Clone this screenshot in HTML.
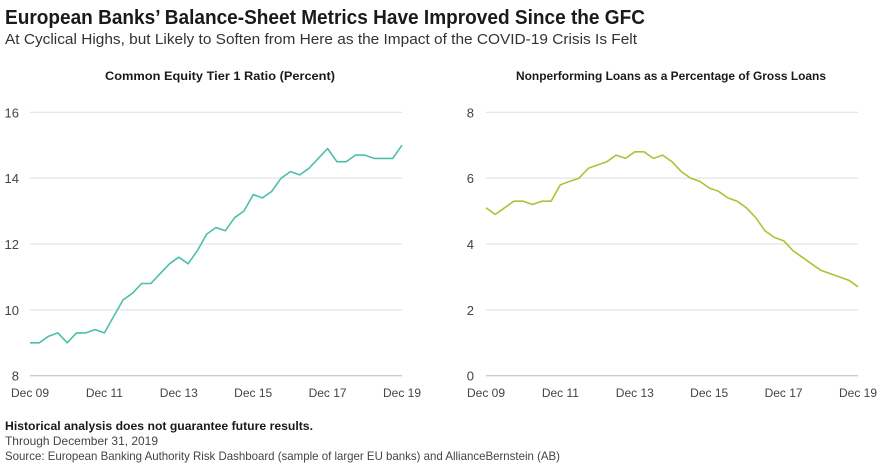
<!DOCTYPE html>
<html><head><meta charset="utf-8"><style>
html,body{margin:0;padding:0;background:#fff;}
svg{display:block;font-family:"Liberation Sans",sans-serif;}
</style></head><body>
<svg id="c" width="880" height="466" viewBox="0 0 880 466">
<text x="5" y="24" font-size="20" font-weight="bold" fill="#1a1a1a" textLength="640" lengthAdjust="spacingAndGlyphs">European Banks’ Balance-Sheet Metrics Have Improved Since the GFC</text>
<text x="5" y="44" font-size="15" fill="#333" textLength="632" lengthAdjust="spacingAndGlyphs">At Cyclical Highs, but Likely to Soften from Here as the Impact of the COVID-19 Crisis Is Felt</text>
<text x="220" y="80" font-size="12" font-weight="bold" fill="#1a1a1a" text-anchor="middle" textLength="230" lengthAdjust="spacingAndGlyphs">Common Equity Tier 1 Ratio (Percent)</text>
<text x="671" y="80" font-size="12" font-weight="bold" fill="#1a1a1a" text-anchor="middle" textLength="310" lengthAdjust="spacingAndGlyphs">Nonperforming Loans as a Percentage of Gross Loans</text>
<g id="left"></g>
<g id="right"></g>
<text x="5" y="430" font-size="12" font-weight="bold" fill="#1a1a1a" textLength="308" lengthAdjust="spacingAndGlyphs">Historical analysis does not guarantee future results.</text>
<text x="5" y="445" font-size="12" fill="#444" textLength="153" lengthAdjust="spacingAndGlyphs">Through December 31, 2019</text>
<text x="5" y="460" font-size="12" fill="#444" textLength="555" lengthAdjust="spacingAndGlyphs">Source: European Banking Authority Risk Dashboard (sample of larger EU banks) and AllianceBernstein (AB)</text>
</svg>
<script>
const xLabels = ["Dec 09","Dec 11","Dec 13","Dec 15","Dec 17","Dec 19"];
const cet1Ticks = [8,10,12,14,16];
const nplTicks = [0,2,4,6,8];
const cet1Values = [9.0,9.0,9.2,9.3,9.0,9.3,9.3,9.4,9.3,9.8,10.3,10.5,10.8,10.8,11.1,11.4,11.6,11.4,11.8,12.3,12.5,12.4,12.8,13.0,13.5,13.4,13.6,14.0,14.2,14.1,14.3,14.6,14.9,14.5,14.5,14.7,14.7,14.6,14.6,14.6,15.0];
const nplValues = [5.1,4.9,5.1,5.3,5.3,5.2,5.3,5.3,5.8,5.9,6.0,6.3,6.4,6.5,6.7,6.6,6.8,6.8,6.6,6.7,6.5,6.2,6.0,5.9,5.7,5.6,5.4,5.3,5.1,4.8,4.4,4.2,4.1,3.8,3.6,3.4,3.2,3.1,3.0,2.9,2.7];
const NS="http://www.w3.org/2000/svg";
function mk(tag,attrs,parent){const e=document.createElementNS(NS,tag);for(const k in attrs)e.setAttribute(k,attrs[k]);parent.appendChild(e);return e;}
function draw(g,x0,x1,ticks,vals,color,yLabelX,prefix){
  const yTop=112.3,yBot=375.7,mn=ticks[0],mx=ticks[ticks.length-1];
  const ys=v=>yBot-(v-mn)/(mx-mn)*(yBot-yTop);
  const xs=i=>x0+i/(vals.length-1)*(x1-x0);
  ticks.forEach(t=>{
    const l=mk('line',{x1:x0,x2:x1,y1:ys(t),y2:ys(t),stroke:t===mn?'#bbb':'#ddd','stroke-width':1},g);
    
    
    const tx=mk('text',{x:yLabelX,y:ys(t)+5,'font-size':13,fill:'#444','text-anchor':'end'},g);
    tx.textContent=t;
    
    
  });
  xLabels.forEach((s,i)=>{
    const tx=mk('text',{x:x0+i/(xLabels.length-1)*(x1-x0),y:397,'font-size':12,fill:'#444','text-anchor':'middle'},g);
    tx.textContent=s;
    
    
  });
  const p=mk('polyline',{points:vals.map((v,i)=>xs(i).toFixed(1)+','+ys(v).toFixed(1)).join(' '),fill:'none',stroke:color,'stroke-width':1.6,'stroke-linejoin':'round'},g);
  
  
}
draw(document.getElementById('left'),30,402,cet1Ticks,cet1Values,'#4dbfa8',19,'cet1');
draw(document.getElementById('right'),486,858,nplTicks,nplValues,'#a8c536',474,'npl');
</script>
</body></html>
